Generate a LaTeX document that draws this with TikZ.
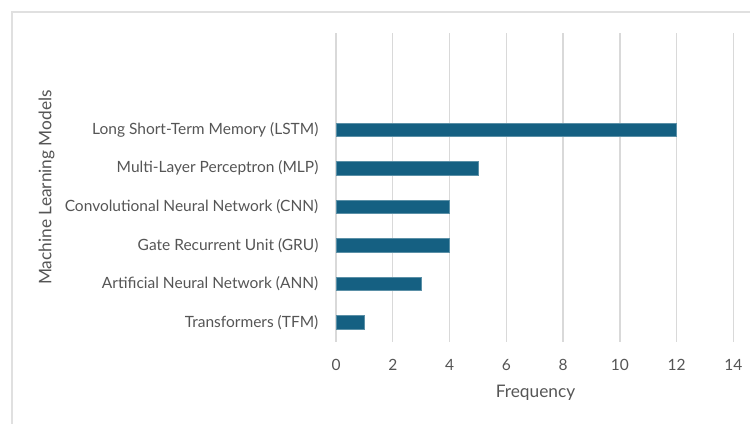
\documentclass[tikz,border=0pt]{standalone}
\usepackage{fontspec}
\setmainfont{Lato}
\definecolor{barc}{HTML}{156082}
\definecolor{txtc}{HTML}{555555}
\definecolor{gridc}{HTML}{D9D9D9}
\definecolor{framec}{HTML}{E0E0E0}
\tikzset{
  gridline/.style={draw=gridc, line width=1.3pt},
  bar/.style={fill=barc, draw=barc!70!white, line width=0.6pt, inner sep=0pt, outer sep=0pt, minimum height=13.3pt, anchor=west},
  catlabel/.style={text=txtc, font=\fontsize{15.5}{18}\selectfont, anchor=east, inner sep=0pt},
  ticklabel/.style={text=txtc, font=\fontsize{15.5}{18}\selectfont, inner sep=0pt},
  axtitle/.style={text=txtc, font=\fontsize{17.3}{20}\selectfont, inner sep=0pt},
}
\begin{document}
\begin{tikzpicture}[x=1pt,y=-1pt]
\useasboundingbox (0,0) rectangle (750,424);
% frame
\coordinate (f1) at (12,424);
\coordinate (f2) at (12,12);
\coordinate (f3) at (750,12);
\draw[draw=framec, line width=1.6pt] (f1) -- (f2) -- (f3);
% gridlines and tick labels
\foreach \v [count=\i from 0] in {0,2,4,6,8,10,12,14} {
  \coordinate (gt\i) at ({336+28.39*\v},33);
  \coordinate (gb\i) at ({336+28.39*\v},342);
  \draw[gridline] (gt\i) -- (gb\i);
  \node[ticklabel] (tk\i) at ({336+28.39*\v},365) {\v};
}
% bars
\foreach \lab/\val [count=\i from 0] in {Long Short-Term Memory (LSTM)/12, Multi-Layer Perceptron (MLP)/5, Convolutional Neural Network (CNN)/4, Gate Recurrent Unit (GRU)/4, Artificial Neural Network (ANN)/3, Transformers (TFM)/1} {
  \node[bar, minimum width={28.39*\val pt}] (bar\i) at (336,{129.8+38.5*\i}) {};
  \node[catlabel] (cat\i) at (318.5,{129.8+38.5*\i}) {\lab};
}
\node[axtitle] (xt) at (535.5,392.5) {Frequency};
\node[axtitle, rotate=90] (yt) at (46.5,187.5) {Machine Learning Models};
\end{tikzpicture}
\end{document}
